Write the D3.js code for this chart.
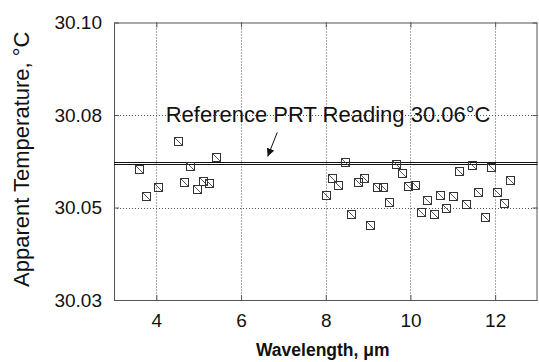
<!DOCTYPE html>
<html>
<head>
<meta charset="utf-8">
<script src="https://cdn.jsdelivr.net/npm/d3@7"></script>
<style>
  html, body { margin: 0; padding: 0; background: #fff; }
  svg { display: block; font-family: "Liberation Sans", Arial, sans-serif; }
</style>
</head>
<body>
<svg id="chart" width="539" height="362"></svg>
<script>
// ---- data ----
const wavelengths = [3.6, 3.75, 4.05, 4.5, 4.65, 4.8, 4.95, 5.1, 5.25, 5.4,
  8.0, 8.15, 8.3, 8.45, 8.6, 8.75, 8.9, 9.05, 9.2, 9.35, 9.5, 9.65, 9.8, 9.95,
  10.1, 10.25, 10.4, 10.55, 10.7, 10.85, 11.0, 11.15, 11.3, 11.45, 11.6, 11.75,
  11.9, 12.05, 12.2, 12.35];
const temperatures = [30.0631, 30.0563, 30.0585, 30.0702, 30.0597, 30.0637, 30.0581, 30.0600, 30.0596, 30.0660,
  30.0564, 30.0609, 30.0590, 30.0647, 30.0517, 30.0597, 30.0609, 30.0490, 30.0585, 30.0584, 30.0547, 30.0643, 30.0621, 30.0588,
  30.0590, 30.0522, 30.0553, 30.0517, 30.0564, 30.0533, 30.0562, 30.0626, 30.0541, 30.0640, 30.0573, 30.0509,
  30.0635, 30.0573, 30.0544, 30.0603];
const xTicks = [4, 6, 8, 10, 12];
const yTicks = [30.03, 30.03 + 0.07 / 3, 30.03 + 0.14 / 3, 30.10];
const yTickLabels = ["30.03", "30.05", "30.08", "30.10"];
const referenceLines = [30.0648, 30.0643];
const annotationText = "Reference PRT Reading 30.06°C";
const annotationAt = [4.22, 30.0748];
const arrowFrom = [6.856, 30.0723];
const arrowTo = [6.629, 30.0662];
const xDomain = [3, 13];
const yDomain = [30.03, 30.10];

// ---- layout ----
const W = 539, H = 362;
const m = { left: 114, top: 22.5, right: 1.5, bottom: 62 };
const svg = d3.select("#chart");
const x = d3.scaleLinear().domain(xDomain).range([m.left, W - m.right]);
const y = d3.scaleLinear().domain(yDomain).range([H - m.bottom, m.top]);

const frameColor = "#555";

// grid
const grid = svg.append("g");
grid.selectAll("line.vg").data(xTicks).join("line")
  .attr("x1", d => Math.round(x(d)) + 0.5).attr("x2", d => Math.round(x(d)) + 0.5)
  .attr("y1", y.range()[1]).attr("y2", y.range()[0])
  .attr("stroke", "#555").attr("stroke-width", 1).attr("stroke-dasharray", "1,2");
grid.selectAll("line.hg").data(yTicks.slice(1, -1)).join("line")
  .attr("x1", x.range()[0]).attr("x2", x.range()[1])
  .attr("y1", d => Math.round(y(d)) + 0.5).attr("y2", d => Math.round(y(d)) + 0.5)
  .attr("stroke", "#555").attr("stroke-width", 1).attr("stroke-dasharray", "1,2");

// axes (ticks inward)
const xAxisB = d3.axisBottom(x).tickValues(xTicks).tickSizeInner(-5).tickSizeOuter(0).tickPadding(14).tickFormat(d3.format("d"));
const gx = svg.append("g").attr("transform", `translate(0,${y.range()[0]})`).call(xAxisB);
gx.select(".domain").remove();
gx.selectAll(".tick line").attr("stroke", frameColor);
gx.selectAll("text").attr("font-size", 19).attr("fill", "#111")
  .attr("font-family", "'Liberation Sans', Arial, sans-serif");

const xAxisT = d3.axisTop(x).tickValues(xTicks).tickSizeInner(-5).tickSizeOuter(0).tickFormat("");
const gxt = svg.append("g").attr("transform", `translate(0,${y.range()[1]})`).call(xAxisT);
gxt.select(".domain").remove();
gxt.selectAll(".tick line").attr("stroke", frameColor);

const yAxisL = d3.axisLeft(y).tickValues(yTicks).tickSizeInner(-5).tickSizeOuter(0).tickPadding(12)
  .tickFormat((d, i) => yTickLabels[i]);
const gy = svg.append("g").attr("transform", `translate(${x.range()[0]},0)`).call(yAxisL);
gy.select(".domain").remove();
gy.selectAll(".tick line").attr("stroke", frameColor);
gy.selectAll("text").attr("font-size", 19).attr("fill", "#111")
  .attr("font-family", "'Liberation Sans', Arial, sans-serif");

const yAxisR = d3.axisRight(y).tickValues(yTicks).tickSizeInner(-5).tickSizeOuter(0).tickFormat("");
const gyr = svg.append("g").attr("transform", `translate(${x.range()[1]},0)`).call(yAxisR);
gyr.select(".domain").remove();
gyr.selectAll(".tick line").attr("stroke", frameColor);

// frame
svg.append("rect")
  .attr("x", x.range()[0] + 0.5).attr("y", y.range()[1] + 0.5)
  .attr("width", x.range()[1] - x.range()[0] - 1).attr("height", y.range()[0] - y.range()[1])
  .attr("fill", "none").attr("stroke", frameColor).attr("stroke-width", 1);

// reference lines
svg.append("g").selectAll("line").data(referenceLines).join("line")
  .attr("x1", x.range()[0]).attr("x2", x.range()[1])
  .attr("y1", d => Math.round(y(d)) + 0.5).attr("y2", d => Math.round(y(d)) + 0.5)
  .attr("stroke", "#111").attr("stroke-width", 1);

// markers
const s = 8;
const pts = svg.append("g").selectAll("g").data(wavelengths.map((w, i) => [w, temperatures[i]])).join("g")
  .attr("transform", d => `translate(${Math.round(x(d[0])) + 0.5},${Math.round(y(d[1])) + 0.5})`);
pts.append("rect").attr("x", -s / 2).attr("y", -s / 2).attr("width", s).attr("height", s)
  .attr("fill", "none").attr("stroke", "#333").attr("stroke-width", 1);
pts.append("line").attr("x1", -s / 2).attr("y1", -s / 2).attr("x2", s / 2).attr("y2", s / 2)
  .attr("stroke", "#444").attr("stroke-width", 0.9);

// annotation
svg.append("text")
  .attr("x", x(annotationAt[0])).attr("y", y(annotationAt[1]))
  .attr("font-size", 22).attr("fill", "#111")
  .text(annotationText);

// arrow
svg.append("defs").append("marker")
  .attr("id", "ah").attr("viewBox", "0 0 10 10").attr("refX", 10).attr("refY", 5)
  .attr("markerWidth", 8).attr("markerHeight", 8).attr("markerUnits", "userSpaceOnUse")
  .attr("orient", "auto")
  .append("path").attr("d", "M0,0 L10,5 L0,10 Z").attr("fill", "#111");
svg.append("line")
  .attr("x1", x(arrowFrom[0])).attr("y1", y(arrowFrom[1]))
  .attr("x2", x(arrowTo[0])).attr("y2", y(arrowTo[1]))
  .attr("stroke", "#111").attr("stroke-width", 1)
  .attr("marker-end", "url(#ah)");

// axis titles
svg.append("text")
  .attr("transform", `translate(${29},${(y.range()[0] + y.range()[1]) / 2 - 2}) rotate(-90)`)
  .attr("text-anchor", "middle").attr("font-size", 22).attr("fill", "#111")
  .text("Apparent Temperature, °C");

svg.append("text")
  .attr("x", (x.range()[0] + x.range()[1]) / 2 - 3).attr("y", 356)
  .attr("text-anchor", "middle").attr("font-size", 17.5).attr("font-weight", "bold").attr("fill", "#111")
  .text("Wavelength, μm");
</script>
</body>
</html>
